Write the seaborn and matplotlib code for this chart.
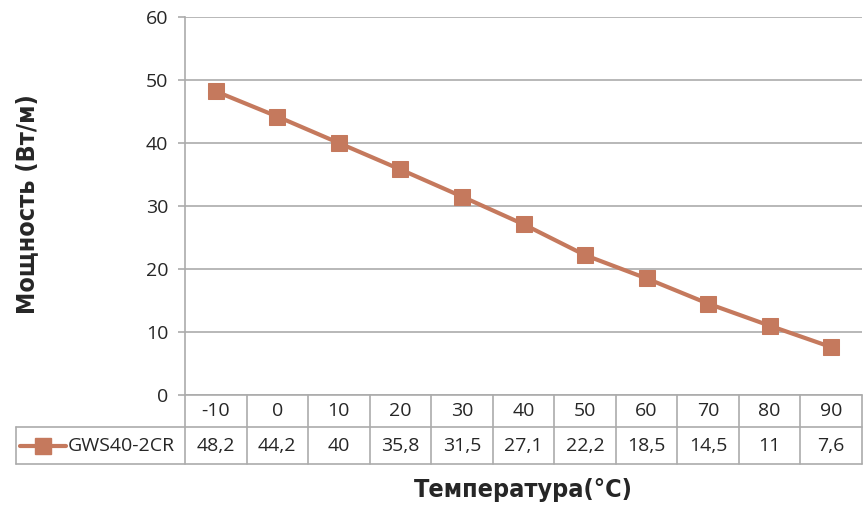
import matplotlib
matplotlib.use("Agg")
import matplotlib.pyplot as plt
import matplotlib.transforms as mtrans
from matplotlib.lines import Line2D
import seaborn as sns
import pandas as pd

temps = ["-10", "0", "10", "20", "30", "40", "50", "60", "70", "80", "90"]
power = [48.2, 44.2, 40, 35.8, 31.5, 27.1, 22.2, 18.5, 14.5, 11, 7.6]
power_labels = ["48,2", "44,2", "40", "35,8", "31,5", "27,1", "22,2", "18,5", "14,5", "11", "7,6"]
series_name = "GWS40-2CR"

color = "#C5795D"
grid_c = "#ABABAB"
fs = 14

sns.set_theme(style="white")
plt.rcParams["font.family"] = ["Open Sans", "DejaVu Sans"]

df = pd.DataFrame({"t": range(len(temps)), "p": power})

fig = plt.figure(figsize=(8.66, 5.11), dpi=100)
ax = fig.add_axes([185 / 866, 1 - 395 / 511, 677 / 866, 378 / 511])

sns.lineplot(data=df, x="t", y="p", ax=ax, color=color, linewidth=3,
             marker="s", markersize=11, markeredgecolor=color, markerfacecolor=color)

ax.set_xlim(-0.5, len(temps) - 0.5)
ax.set_ylim(0, 60)
ax.set_yticks(range(0, 61, 10))
ax.set_xticks([])
ax.set_xlabel("")
ax.set_ylabel("")
ax.yaxis.grid(True, color=grid_c, linewidth=1.2)
ax.set_axisbelow(True)
for s in ["top", "right", "bottom"]:
    ax.spines[s].set_visible(False)
ax.spines["left"].set_color(grid_c)
ax.spines["left"].set_linewidth(1.2)
ax.tick_params(axis="y", length=5, width=1.2, color=grid_c, labelsize=fs,
               pad=7, left=True)

# data table under the chart
tr = mtrans.blended_transform_factory(ax.transData, ax.transAxes)
row1 = -32 / 378
row2 = -69 / 378
lkw = dict(color=grid_c, linewidth=1.2, clip_on=False)
ax.plot([-0.5, len(temps) - 0.5], [0, 0], transform=tr, **lkw)
for i in range(len(temps) + 1):
    ax.plot([i - 0.5, i - 0.5], [0, row2], transform=tr, **lkw)
left_edge = (16 - 185) / 677
ax.plot([left_edge, 1], [row1, row1], transform=ax.transAxes, **lkw)
ax.plot([left_edge, 1], [row2, row2], transform=ax.transAxes, **lkw)
ax.plot([left_edge, left_edge], [row1, row2], transform=ax.transAxes, **lkw)

for i, (t, v) in enumerate(zip(temps, power_labels)):
    ax.text(i, row1 / 2, t, transform=tr, ha="center", va="center", fontsize=fs)
    ax.text(i, (row1 + row2) / 2, v, transform=tr, ha="center", va="center", fontsize=fs)

# legend key in table
ymid = (row1 + row2) / 2
lx0 = (20 - 185) / 677
lx1 = (66 - 185) / 677
ax.add_line(Line2D([lx0, lx1], [ymid, ymid], transform=ax.transAxes, color=color,
                   linewidth=3, clip_on=False))
ax.add_line(Line2D([(lx0 + lx1) / 2], [ymid], transform=ax.transAxes, color=color,
                   marker="s", markersize=11, clip_on=False))
ax.text((68 - 185) / 677, ymid, series_name, transform=ax.transAxes,
        ha="left", va="center", fontsize=fs)

title_font = ["DejaVu Sans"]
fig.text(27 / 866, 1 - 204 / 511, "Мощность (Вт/м)", rotation=90, ha="center",
         va="center", fontsize=18, fontweight="bold", fontstretch="condensed",
         family=title_font)
fig.text(523 / 866, 1 - 490 / 511, "Температура(°C)", ha="center", va="center",
         fontsize=18, fontweight="bold", fontstretch="condensed", family=title_font)

fig.savefig("out.png", dpi=100)
